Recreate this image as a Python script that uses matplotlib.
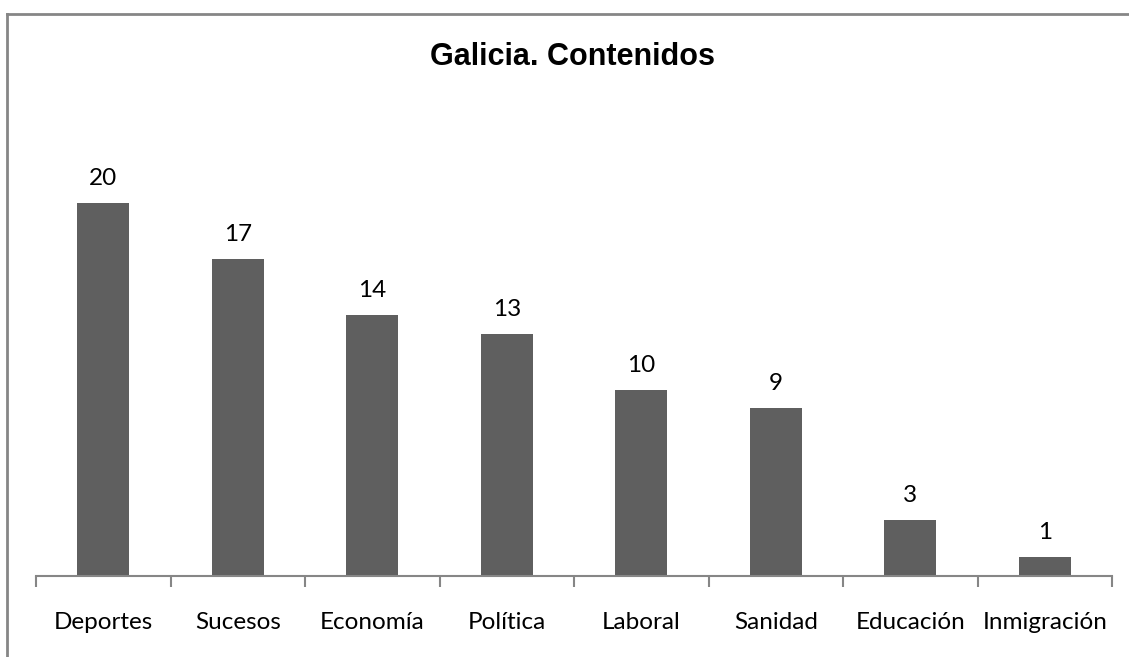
import matplotlib.pyplot as plt
from matplotlib.lines import Line2D

# Galicia: news content categories
categorias = ['Deportes', 'Sucesos', 'Economía', 'Política', 'Laboral',
              'Sanidad', 'Educación', 'Inmigración']
valores = [20, 17, 14, 13, 10, 9, 3, 1]

W, H = 1129, 657
fig = plt.figure(figsize=(W / 100, H / 100), dpi=100)
ax = fig.add_axes([36 / W, 1 - 576 / H, (1112 - 36) / W, (576 - 110) / H])

x = range(len(categorias))
bars = ax.bar(x, valores, width=0.39, color='#5f5f5f')
ax.set_xlim(-0.5, len(categorias) - 0.5)
ax.set_ylim(0, 25)

for xi, v in zip(x, valores):
    ax.text(xi, v + 0.75, str(v), ha='center', va='bottom',
            fontsize=17.5, family=['Lato', 'DejaVu Sans'], color='black')

# axis with tick marks at category boundaries
for s in ['top', 'right', 'left']:
    ax.spines[s].set_visible(False)
ax.spines['bottom'].set_color('#868686')
ax.spines['bottom'].set_linewidth(1.5)
ax.set_yticks([])
ax.set_xticks([i - 0.5 for i in range(len(categorias) + 1)], minor=False)
ax.set_xticklabels([])
ax.tick_params(axis='x', length=8, width=1.5, color='#868686', direction='out')
ax.set_xticks(list(x), minor=True)
ax.set_xticklabels(categorias, minor=True, fontsize=17.5, family=['Lato', 'DejaVu Sans'])
ax.tick_params(axis='x', which='minor', length=0, pad=26)

fig.suptitle('Galicia. Contenidos', x=573 / W, y=1 - 57 / H, va='center',
             fontsize=22, fontweight='bold', family=['Liberation Sans', 'DejaVu Sans'])

# chart frame (left and top edges visible)
fig.add_artist(Line2D([7 / W, 7 / W], [0, 1 - 14 / H], color='#868686', lw=2,
                      transform=fig.transFigure))
fig.add_artist(Line2D([7 / W, 1], [1 - 14 / H, 1 - 14 / H], color='#868686', lw=2,
                      transform=fig.transFigure))

fig.savefig('out.png', dpi=100)
